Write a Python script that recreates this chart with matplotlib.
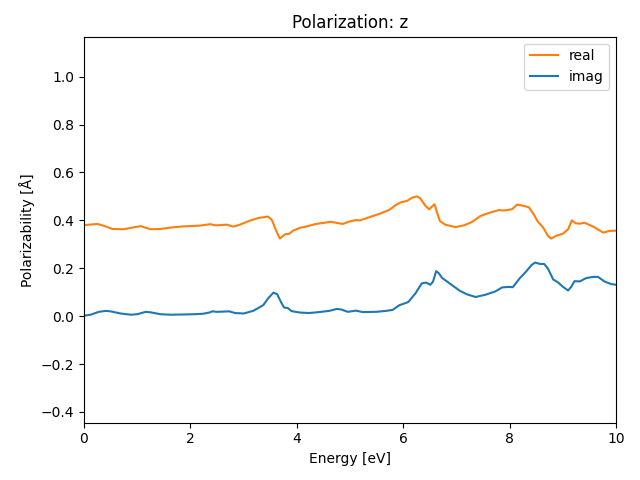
import matplotlib
matplotlib.use("Agg")
import matplotlib.pyplot as plt

real_E = [0.00, 0.25, 0.38, 0.53, 0.75, 0.94, 1.07, 1.13, 1.25, 1.44, 1.63, 1.88, 2.07,
          2.18, 2.37, 2.48, 2.68, 2.81, 2.93, 3.12, 3.28, 3.46, 3.53, 3.62, 3.68, 3.78,
          3.86, 3.93, 4.06, 4.17, 4.36, 4.49, 4.64, 4.74, 4.86, 4.99, 5.10, 5.19, 5.36,
          5.55, 5.74, 5.86, 5.96, 6.07, 6.17, 6.26, 6.32, 6.42, 6.49, 6.55, 6.59, 6.64,
          6.69, 6.79, 6.98, 7.14, 7.29, 7.45, 7.61, 7.80, 7.89, 7.98, 8.05, 8.14, 8.25,
          8.36, 8.44, 8.53, 8.63, 8.72, 8.78, 8.88, 9.00, 9.10, 9.17, 9.24, 9.32, 9.41,
          9.57, 9.76, 9.88, 10.00]
real_V = [0.380, 0.385, 0.377, 0.364, 0.363, 0.371, 0.376, 0.371, 0.363, 0.364, 0.370, 0.375, 0.377,
          0.378, 0.384, 0.379, 0.382, 0.374, 0.382, 0.399, 0.410, 0.416, 0.402, 0.353, 0.324, 0.342,
          0.344, 0.357, 0.369, 0.374, 0.385, 0.389, 0.394, 0.390, 0.385, 0.395, 0.401, 0.400, 0.413,
          0.427, 0.444, 0.464, 0.476, 0.481, 0.495, 0.500, 0.492, 0.460, 0.446, 0.460, 0.467, 0.430,
          0.397, 0.382, 0.372, 0.379, 0.393, 0.418, 0.431, 0.443, 0.441, 0.444, 0.447, 0.466, 0.461,
          0.455, 0.430, 0.395, 0.370, 0.336, 0.324, 0.336, 0.344, 0.363, 0.400, 0.388, 0.386, 0.390,
          0.374, 0.349, 0.356, 0.357]

imag_E = [0.00, 0.125, 0.28, 0.41, 0.50, 0.69, 0.88, 1.00, 1.16, 1.25, 1.44, 1.63, 1.88, 2.07,
          2.24, 2.37, 2.41, 2.50, 2.73, 2.84, 3.00, 3.18, 3.37, 3.46, 3.56, 3.63, 3.70, 3.76,
          3.83, 3.90, 4.06, 4.23, 4.42, 4.61, 4.75, 4.83, 4.96, 5.11, 5.24, 5.49, 5.68, 5.80,
          5.93, 6.05, 6.10, 6.23, 6.35, 6.43, 6.51, 6.56, 6.62, 6.67, 6.73, 6.89, 7.07, 7.20,
          7.36, 7.54, 7.73, 7.86, 7.98, 8.06, 8.19, 8.31, 8.41, 8.48, 8.57, 8.65, 8.72, 8.82,
          8.91, 9.00, 9.10, 9.16, 9.22, 9.32, 9.44, 9.57, 9.66, 9.79, 9.91, 10.00]
imag_V = [0.002, 0.006, 0.018, 0.022, 0.020, 0.011, 0.006, 0.008, 0.018, 0.016, 0.008, 0.006, 0.007, 0.008,
          0.010, 0.016, 0.020, 0.018, 0.020, 0.013, 0.011, 0.022, 0.046, 0.074, 0.098, 0.092, 0.060, 0.036,
          0.034, 0.021, 0.015, 0.013, 0.017, 0.022, 0.030, 0.028, 0.018, 0.023, 0.017, 0.018, 0.022, 0.026,
          0.046, 0.055, 0.060, 0.095, 0.137, 0.140, 0.131, 0.144, 0.188, 0.179, 0.160, 0.134, 0.105, 0.091,
          0.080, 0.089, 0.103, 0.120, 0.122, 0.121, 0.158, 0.186, 0.213, 0.224, 0.218, 0.218, 0.199, 0.153,
          0.141, 0.123, 0.107, 0.123, 0.146, 0.145, 0.159, 0.164, 0.164, 0.144, 0.134, 0.131]

fig = plt.figure(figsize=(6.4, 4.8), dpi=100)
ax = fig.add_axes([84 / 640, 1 - 422.7 / 480, 532 / 640, (422.7 - 36.7) / 480])
ax.plot(real_E, real_V, color="#ff7f0e", label="real")
ax.plot(imag_E, imag_V, color="#1f77b4", label="imag")
ax.set_xlim(0, 10)
ax.set_ylim(-0.445, 1.167)
ax.set_title("Polarization: z")
ax.set_xlabel("Energy [eV]")
ax.set_ylabel("Polarizability [Å]")
ax.legend(loc="upper right")
fig.savefig("out.png", dpi=100)
